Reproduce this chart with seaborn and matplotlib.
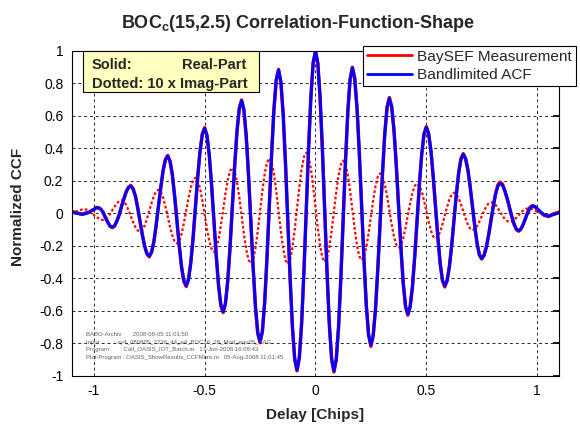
import numpy as np
import matplotlib
matplotlib.use('Agg')
import matplotlib.pyplot as plt
import seaborn as sns
from matplotlib.patches import Rectangle

# delay samples (chips), grid spacing 1/96 chip
delay = np.arange(-106, 107) / 96

# bandlimited ACF, real part
acf_real = [
    0.008, 0.005, 0.002, -0.001, -0.004, -0.005, -0.003, 0.001, 0.008, 0.016, 0.025, 0.033,
    0.035, 0.027, 0.005, -0.025, -0.055, -0.077, -0.085,
    -0.075, -0.048, -0.007, 0.042, 0.090, 0.131, 0.158, 0.168,
    0.152, 0.105, 0.035, -0.048, -0.130, -0.200, -0.247, -0.263,
    -0.240, -0.173, -0.073, 0.045, 0.162, 0.262, 0.329, 0.352,
    0.322, 0.236, 0.106, -0.047, -0.199, -0.329, -0.415, -0.445,
    -0.408, -0.304, -0.146, 0.039, 0.224, 0.382, 0.486, 0.523,
    0.480, 0.358, 0.175, -0.041, -0.257, -0.440, -0.562, -0.605,
    -0.556, -0.416, -0.204, 0.044, 0.292, 0.503, 0.644, 0.693,
    0.637, 0.477, 0.235, -0.049, -0.332, -0.574, -0.734, -0.790,
    -0.727, -0.546, -0.274, 0.046, 0.365, 0.637, 0.818, 0.881,
    0.811, 0.612, 0.311, -0.042, -0.394, -0.695, -0.894, -0.964,
    -0.889, -0.677, -0.357, 0.018, 0.393, 0.713, 0.925, 1.000,
    0.925, 0.712, 0.391, 0.015, -0.361, -0.682, -0.895, -0.970,
    -0.899, -0.698, -0.394, -0.038, 0.319, 0.623, 0.824, 0.895,
    0.830, 0.646, 0.368, 0.043, -0.283, -0.561, -0.745, -0.810,
    -0.752, -0.589, -0.341, -0.052, 0.238, 0.486, 0.649, 0.707,
    0.657, 0.513, 0.297, 0.044, -0.210, -0.426, -0.570, -0.620,
    -0.576, -0.452, -0.265, -0.046, 0.174, 0.361, 0.485, 0.529,
    0.492, 0.387, 0.227, 0.041, -0.145, -0.305, -0.410, -0.447,
    -0.416, -0.329, -0.197, -0.042, 0.113, 0.245, 0.332, 0.363,
    0.339, 0.270, 0.165, 0.043, -0.079, -0.184, -0.253, -0.277,
    -0.260, -0.210, -0.135, -0.047, 0.042, 0.117, 0.167, 0.184,
    0.173, 0.141, 0.094, 0.039, -0.017, -0.064, -0.096, -0.107,
    -0.097, -0.069, -0.031, 0.007, 0.035, 0.045,
    0.043, 0.030, 0.016, 0.003, -0.008, -0.014, -0.016, -0.013, -0.008, -0.003, 0.001, 0.004]

# BaySEF measurement, real part
meas_real = [
    0.012, 0.010, 0.004, 0.002, -0.002, -0.006, 0.000, 0.004, 0.006, 0.018, 0.022, 0.036,
    0.034, 0.024, 0.008, -0.028, -0.052, -0.080, -0.088,
    -0.078, -0.045, -0.010, 0.045, 0.087, 0.134, 0.161, 0.172,
    0.148, 0.108, 0.032, -0.050, -0.134, -0.203, -0.250, -0.267,
    -0.236, -0.176, -0.070, 0.048, 0.159, 0.265, 0.333, 0.356,
    0.318, 0.239, 0.103, -0.050, -0.202, -0.333, -0.419, -0.450,
    -0.404, -0.300, -0.149, 0.041, 0.227, 0.385, 0.490, 0.527,
    0.476, 0.355, 0.172, -0.044, -0.260, -0.444, -0.566, -0.610,
    -0.552, -0.412, -0.207, 0.047, 0.296, 0.507, 0.648, 0.697,
    0.633, 0.473, 0.232, -0.052, -0.336, -0.578, -0.739, -0.795,
    -0.723, -0.542, -0.270, 0.049, 0.369, 0.641, 0.822, 0.885,
    0.807, 0.608, 0.308, -0.045, -0.398, -0.699, -0.898, -0.968,
    -0.885, -0.673, -0.353, 0.021, 0.397, 0.717, 0.928, 0.995,
    0.921, 0.708, 0.387, 0.012, -0.365, -0.686, -0.899, -0.975,
    -0.895, -0.694, -0.390, -0.035, 0.323, 0.627, 0.828, 0.898,
    0.826, 0.642, 0.364, 0.040, -0.287, -0.565, -0.750, -0.818,
    -0.748, -0.585, -0.337, -0.055, 0.242, 0.490, 0.654, 0.712,
    0.653, 0.509, 0.293, 0.041, -0.214, -0.430, -0.575, -0.626,
    -0.572, -0.448, -0.261, -0.043, 0.178, 0.365, 0.489, 0.533,
    0.488, 0.383, 0.223, 0.038, -0.149, -0.309, -0.415, -0.452,
    -0.412, -0.325, -0.193, -0.039, 0.117, 0.249, 0.336, 0.367,
    0.335, 0.266, 0.161, 0.040, -0.083, -0.188, -0.257, -0.281,
    -0.256, -0.206, -0.131, -0.044, 0.046, 0.121, 0.175, 0.192,
    0.180, 0.137, 0.090, 0.036, -0.020, -0.068, -0.100, -0.110,
    -0.094, -0.066, -0.028, 0.010, 0.038, 0.048,
    0.040, 0.026, 0.012, 0.000, -0.012, -0.016, -0.020, -0.010, -0.004, 0.000, 0.006, 0.010]

# BaySEF measurement, imaginary part (already x10)
meas_imag_x10 = [
    0.000, 0.005, 0.010, 0.015, 0.020, 0.024, 0.025, 0.022, 0.015, 0.003,
    -0.010, -0.021, -0.030, -0.038, -0.041,
    -0.036, -0.023, -0.004, 0.020, 0.043, 0.062, 0.075, 0.080,
    0.073, 0.052, 0.020, -0.017, -0.053, -0.085, -0.106, -0.113,
    -0.103, -0.075, -0.033, 0.016, 0.065, 0.107, 0.135, 0.145,
    0.132, 0.097, 0.043, -0.020, -0.083, -0.137, -0.172, -0.185,
    -0.170, -0.126, -0.060, 0.017, 0.094, 0.160, 0.204, 0.219,
    0.202, 0.153, 0.078, -0.009, -0.095, -0.170, -0.219, -0.236,
    -0.216, -0.161, -0.077, 0.022, 0.121, 0.205, 0.260, 0.280,
    0.258, 0.194, 0.098, -0.014, -0.126, -0.222, -0.286, -0.308,
    -0.284, -0.214, -0.108, 0.015, 0.138, 0.244, 0.314, 0.338,
    0.313, 0.243, 0.137, 0.013, -0.111, -0.217, -0.287, -0.312,
    -0.286, -0.212, -0.100, 0.031, 0.161, 0.273, 0.347, 0.373,
    0.348, 0.275, 0.166, 0.038, -0.091, -0.200, -0.273, -0.298,
    -0.274, -0.207, -0.106, 0.013, 0.132, 0.233, 0.300, 0.324,
    0.301, 0.235, 0.135, 0.019, -0.098, -0.198, -0.264, -0.287,
    -0.267, -0.209, -0.122, -0.021, 0.081, 0.168, 0.226, 0.246,
    0.229, 0.180, 0.105, 0.019, -0.068, -0.143, -0.192, -0.209,
    -0.194, -0.152, -0.088, -0.013, 0.063, 0.127, 0.169, 0.184,
    0.171, 0.135, 0.079, 0.015, -0.050, -0.106, -0.142, -0.155,
    -0.144, -0.114, -0.068, -0.014, 0.040, 0.086, 0.116, 0.127,
    0.118, 0.094, 0.056, 0.012, -0.032, -0.069, -0.094, -0.103,
    -0.097, -0.078, -0.050, -0.018, 0.015, 0.043, 0.062, 0.068,
    0.063, 0.051, 0.031, 0.008, -0.015, -0.035, -0.047, -0.052,
    -0.049, -0.040, -0.027, -0.011, 0.005, 0.018, 0.027, 0.030,
    0.029, 0.025, 0.018, 0.010, 0.005, 0.000, -0.005, -0.010, -0.012, -0.012,
    -0.009, -0.005, 0.000, 0.005]

xticks = [-1, -0.5, 0, 0.5, 1]
xtick_labels = ['-1', '-0.5', '0', '0.5', '1']
yticks = [1, 0.8, 0.6, 0.4, 0.2, 0, -0.2, -0.4, -0.6, -0.8, -1]
ytick_labels = ['1', '0.8', '0.6', '0.4', '0.2', '0', '-0.2', '-0.4', '-0.6', '-0.8', '-1']

info_lines = [
    'BABO-Archiv       2008-08-05 11:01:50',
    'Input         : xy4_080805_2236_44_a4_BOC16_28_Mod_equ05_AAG',
    'Program       : Call_OASIS_IOT_Batch.m   17-Jun-2008 16:08:43',
    'Plot-Program : OASIS_ShowResults_CCFMore.m   05-Aug-2008 11:01:45',
]

sns.set_theme(style="white")
plt.rcParams['font.family'] = ['Liberation Sans', 'DejaVu Sans']
plt.rcParams['axes.unicode_minus'] = False
plt.rcParams['mathtext.fontset'] = 'custom'
plt.rcParams['mathtext.rm'] = 'Liberation Sans'
plt.rcParams['mathtext.bf'] = 'Liberation Sans:bold'

fig = plt.figure(figsize=(5.8, 4.25), dpi=100)
ax = fig.add_axes([0.1236, 0.1153, 0.8407, 0.7654])

sns.lineplot(x=delay, y=meas_real, color='#ff0000', linewidth=2.5, ax=ax, legend=False)
sns.lineplot(x=delay, y=meas_imag_x10, color='#ff0000', linewidth=1.6,
             linestyle=(0, (1.2, 1.0)), ax=ax, legend=False)
sns.lineplot(x=delay, y=acf_real, color='#0000ff', linewidth=2.2, ax=ax, legend=False)

ax.set_xlim(-1.1, 1.1)
ax.set_ylim(-1, 1)
ax.set_xticks(xticks)
ax.set_xticklabels(xtick_labels)
ax.set_yticks(yticks)
ax.set_yticklabels(ytick_labels)
ax.tick_params(direction='in', length=4, top=True, right=True, labelsize=10,
               colors='black', pad=6)
ax.grid(True, color='black', linestyle=(0, (3, 3)), linewidth=0.7, alpha=0.85)
ax.set_axisbelow(True)
for s in ax.spines.values():
    s.set_color('black')
    s.set_linewidth(0.8)
ax.set_xlabel('Delay [Chips]', fontsize=11, fontweight='bold')
ax.xaxis.set_label_coords(0.5, -0.098)
ax.set_ylabel('')
fig.text(18 / 580, 0.513, 'Normalized CCF', rotation=90, ha='center', va='center',
         fontsize=11, fontweight='bold')

fig.text(121 / 580, 1 - 28 / 425, r'BOC$_\mathbf{c}$(15,2.5) Correlation-Function-Shape',
         ha='left', va='baseline', fontsize=13, fontweight='bold')

# info box top left
ax.add_patch(Rectangle((0.0238, 0.872), 0.3603, 0.128, transform=ax.transAxes,
                       facecolor='#ffffc0', edgecolor='black', linewidth=0.8,
                       zorder=5, clip_on=False))
ax.text(0.041, 0.956, 'Solid:', transform=ax.transAxes, ha='left', va='center',
        fontsize=10.5, fontweight='bold', zorder=6)
ax.text(0.359, 0.956, 'Real-Part', transform=ax.transAxes, ha='right', va='center',
        fontsize=10.5, fontweight='bold', zorder=6)
ax.text(0.041, 0.898, 'Dotted: 10 x Imag-Part', transform=ax.transAxes, ha='left',
        va='center', fontsize=10.5, fontweight='bold', zorder=6)

# legend
h_meas = plt.Line2D([], [], color='#ff0000', linewidth=2)
h_acf = plt.Line2D([], [], color='#0000ff', linewidth=2)
leg = ax.legend([h_meas, h_acf], ['BaySEF Measurement', 'Bandlimited ACF'],
                loc='upper left', bbox_to_anchor=(363 / 580, 1 - 46 / 425),
                bbox_transform=fig.transFigure, fontsize=11.1, frameon=True,
                fancybox=False, edgecolor='black', framealpha=1, borderpad=0.25,
                handlelength=2.9, handletextpad=0.35, labelspacing=0.3,
                borderaxespad=0)
leg.get_frame().set_linewidth(0.8)
leg.set_zorder(10)

# archive info text
for i, line in enumerate(info_lines):
    fig.text(86 / 580, 1 - (335 + 7.5 * i) / 425, line, fontsize=4.3,
             color='#606060', ha='left', va='center')

fig.savefig('out.png', dpi=100)
